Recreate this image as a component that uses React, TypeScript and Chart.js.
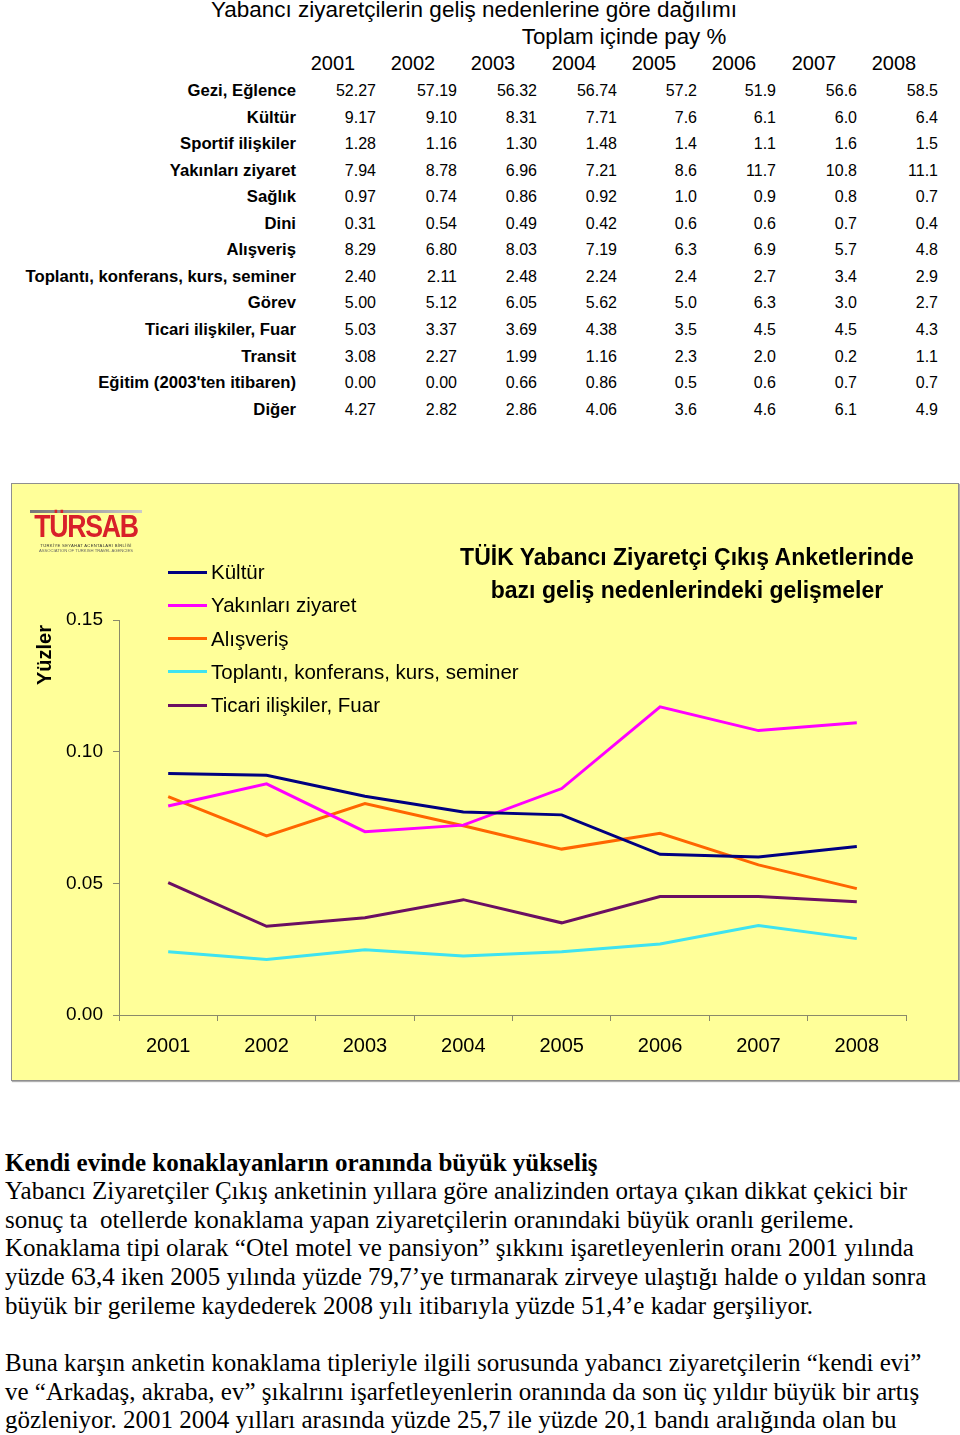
import React, { useEffect, useRef } from "react";
import { Chart, registerables } from "chart.js";
Chart.register(...registerables);

// ---------- DATA ----------
const years = ["2001", "2002", "2003", "2004", "2005", "2006", "2007", "2008"];
const reasons = [
  "Gezi, Eğlence",
  "Kültür",
  "Sportif ilişkiler",
  "Yakınları ziyaret",
  "Sağlık",
  "Dini",
  "Alışveriş",
  "Toplantı, konferans, kurs, seminer",
  "Görev",
  "Ticari ilişkiler, Fuar",
  "Transit",
  "Eğitim (2003'ten itibaren)",
  "Diğer",
];
const geziEglence = ["52.27", "57.19", "56.32", "56.74", "57.2", "51.9", "56.6", "58.5"];
const kultur = ["9.17", "9.10", "8.31", "7.71", "7.6", "6.1", "6.0", "6.4"];
const sportif = ["1.28", "1.16", "1.30", "1.48", "1.4", "1.1", "1.6", "1.5"];
const yakinlari = ["7.94", "8.78", "6.96", "7.21", "8.6", "11.7", "10.8", "11.1"];
const saglik = ["0.97", "0.74", "0.86", "0.92", "1.0", "0.9", "0.8", "0.7"];
const dini = ["0.31", "0.54", "0.49", "0.42", "0.6", "0.6", "0.7", "0.4"];
const alisveris = ["8.29", "6.80", "8.03", "7.19", "6.3", "6.9", "5.7", "4.8"];
const toplanti = ["2.40", "2.11", "2.48", "2.24", "2.4", "2.7", "3.4", "2.9"];
const gorev = ["5.00", "5.12", "6.05", "5.62", "5.0", "6.3", "3.0", "2.7"];
const ticari = ["5.03", "3.37", "3.69", "4.38", "3.5", "4.5", "4.5", "4.3"];
const transit = ["3.08", "2.27", "1.99", "1.16", "2.3", "2.0", "0.2", "1.1"];
const egitim = ["0.00", "0.00", "0.66", "0.86", "0.5", "0.6", "0.7", "0.7"];
const diger = ["4.27", "2.82", "2.86", "4.06", "3.6", "4.6", "6.1", "4.9"];
const tableRows = [geziEglence, kultur, sportif, yakinlari, saglik, dini, alisveris, toplanti, gorev, ticari, transit, egitim, diger];

const chartSeriesNames = ["Kültür", "Yakınları ziyaret", "Alışveriş", "Toplantı, konferans, kurs, seminer", "Ticari ilişkiler, Fuar"];
const chartSeriesValues = [kultur, yakinlari, alisveris, toplanti, ticari];
const chartSeriesColors = ["#000080", "#FF00FF", "#FF6600", "#3FE3F0", "#6B0F62"];
const yMin = 0;
const yMax = 0.15;
const yStep = 0.05;

const tableTitle = "Yabancı ziyaretçilerin geliş nedenlerine göre dağılımı";
const tableSubtitle = "Toplam içinde pay %";
const chartTitle1 = "TÜİK Yabancı Ziyaretçi Çıkış Anketlerinde";
const chartTitle2 = "bazı geliş nedenlerindeki gelişmeler";
const yAxisTitle = "Yüzler";

const heading = "Kendi evinde konaklayanların oranında büyük yükseliş";
const paragraph1 = [
  "Yabancı Ziyaretçiler Çıkış anketinin yıllara göre analizinden ortaya çıkan dikkat çekici bir",
  "sonuç ta  otellerde konaklama yapan ziyaretçilerin oranındaki büyük oranlı gerileme.",
  "Konaklama tipi olarak “Otel motel ve pansiyon” şıkkını işaretleyenlerin oranı 2001 yılında",
  "yüzde 63,4 iken 2005 yılında yüzde 79,7’ye tırmanarak zirveye ulaştığı halde o yıldan sonra",
  "büyük bir gerileme kaydederek 2008 yılı itibarıyla yüzde 51,4’e kadar gerşiliyor.",
];
const paragraph2 = [
  "Buna karşın anketin konaklama tipleriyle ilgili sorusunda yabancı ziyaretçilerin “kendi evi”",
  "ve “Arkadaş, akraba, ev” şıkalrını işarfetleyenlerin oranında da son üç yıldır büyük bir artış",
  "gözleniyor. 2001 2004 yılları arasında yüzde 25,7 ile yüzde 20,1 bandı aralığında olan bu",
];

// ---------- LAYOUT ----------
const SANS = "'Liberation Sans', Arial, Helvetica, sans-serif";
const SERIF = "'Liberation Serif', 'Times New Roman', serif";
const colRight = [376, 457, 537, 617, 697, 776, 857, 938];
const yearCenter = [333, 413, 493, 574, 654, 734, 814, 894];
const rowTop = 91;
const rowStep = 26.55;

const BOX = { left: 11, top: 483, width: 948, height: 598 };

function LineChart() {
  const ref = useRef<HTMLCanvasElement | null>(null);
  useEffect(() => {
    if (!ref.current) return;
    const chart = new Chart(ref.current, {
      type: "line",
      data: {
        labels: years,
        datasets: chartSeriesNames.map((name, i) => ({
          label: name,
          data: chartSeriesValues[i].map((v) => parseFloat(v) / 100),
          borderColor: chartSeriesColors[i],
          backgroundColor: chartSeriesColors[i],
          borderWidth: 3,
          pointRadius: 0,
          tension: 0,
          fill: false,
        })),
      },
      options: {
        animation: false,
        responsive: false,
        devicePixelRatio: 1,
        layout: { padding: { left: 0, right: 52, top: 136, bottom: 0 } },
        plugins: { legend: { display: false }, tooltip: { enabled: false }, title: { display: false } },
        scales: {
          x: {
            offset: true,
            grid: { offset: true, drawOnChartArea: false, drawTicks: true, tickLength: 6, color: "#8a8a6a" },
            border: { display: true, color: "#8a8a6a", width: 1 },
            ticks: { color: "#000", font: { family: SANS, size: 20 }, padding: 13, maxRotation: 0 },
            afterFit: (s: any) => {
              s.height = 65;
            },
          },
          y: {
            min: yMin,
            max: yMax,
            grid: { drawOnChartArea: false, drawTicks: true, tickLength: 6, color: "#8a8a6a" },
            border: { display: true, color: "#8a8a6a", width: 1 },
            ticks: {
              stepSize: yStep,
              color: "#000",
              font: { family: SANS, size: 19 },
              padding: 10,
              callback: (v: any) => Number(v).toFixed(2),
            },
            afterFit: (s: any) => {
              s.width = 107;
            },
          },
        },
      },
    });
    return () => chart.destroy();
  }, []);
  return (
    <canvas
      ref={ref}
      width={BOX.width - 2}
      height={BOX.height - 2}
      style={{ position: "absolute", left: 0, top: 0, width: BOX.width - 2, height: BOX.height - 2 }}
    />
  );
}

const abs = (extra: React.CSSProperties): React.CSSProperties => ({
  position: "absolute",
  whiteSpace: "pre",
  ...extra,
});

export default function App() {
  useEffect(() => {
    document.body.style.margin = "0";
  }, []);
  return (
    <div style={{ position: "absolute", left: 0, top: 0, width: 960, height: 1435, background: "#fff", overflow: "hidden", fontFamily: SANS, color: "#000" }}>
      {/* Table */}
      <div style={abs({ left: 474, top: -3, lineHeight: "26px", fontSize: 22.5, transform: "translateX(-50%)" })}>{tableTitle}</div>
      <div style={abs({ left: 624, top: 24, lineHeight: "26px", fontSize: 22.3, transform: "translateX(-50%)" })}>
        {tableSubtitle}
      </div>
      {years.map((y, i) => (
        <div key={y} style={abs({ left: yearCenter[i], top: 52, lineHeight: "22px", fontSize: 20, transform: "translateX(-50%)" })}>
          {y}
        </div>
      ))}
      {reasons.map((r, ri) => (
        <React.Fragment key={r}>
          <div style={abs({ right: 960 - 296, top: rowTop + ri * rowStep - 10, lineHeight: "20px", fontSize: 16.7, fontWeight: "bold" })}>{r}</div>
          {tableRows[ri].map((v, ci) => (
            <div key={ci} style={abs({ right: 960 - colRight[ci], top: rowTop + ri * rowStep - 10, lineHeight: "20px", fontSize: 16 })}>
              {v}
            </div>
          ))}
        </React.Fragment>
      ))}

      {/* Chart box */}
      <div
        style={{
          position: "absolute",
          left: BOX.left,
          top: BOX.top,
          width: BOX.width,
          height: BOX.height,
          boxSizing: "border-box",
          border: "1px solid #8f8f8f",
          background: "#FFFF99",
          boxShadow: "1px 1px 1px #b0b0b0",
        }}
      >
        <LineChart />
        {/* Logo */}
        <div style={abs({ left: 18, top: 24, width: 112, height: 42 })}>
          <div style={{ position: "absolute", left: 0, top: 2, width: 112, height: 3, background: "linear-gradient(90deg,#777,#ccc)" }} />
          <div style={{ position: "absolute", left: -10, top: 2, width: 132, textAlign: "center", color: "#d8202a", fontWeight: 900, fontSize: 31, lineHeight: "34px", letterSpacing: -1.5, fontFamily: SANS, transform: "scaleX(0.86)" }}>TÜRSAB</div>
          <div style={{ position: "absolute", left: 0, top: 35, width: 112, fontSize: 4.2, lineHeight: "5px", color: "#333", textAlign: "center", letterSpacing: 0.3 }}>TÜRKİYE SEYAHAT ACENTALARI BİRLİĞİ</div>
          <div style={{ position: "absolute", left: 0, top: 40, width: 112, fontSize: 4.2, lineHeight: "5px", color: "#666", textAlign: "center" }}>ASSOCIATION OF TURKISH TRAVEL AGENCIES</div>
        </div>
        {/* Legend */}
        {chartSeriesNames.map((n, i) => (
          <React.Fragment key={n}>
            <div style={{ position: "absolute", left: 156, top: 88 + i * 33.3 - 1.5, width: 39, height: 3, background: chartSeriesColors[i] }} />
            <div style={abs({ left: 199, top: 88 + i * 33.3 - 12, lineHeight: "24px", fontSize: 20.5 })}>{n}</div>
          </React.Fragment>
        ))}
        {/* Title */}
        <div style={abs({ left: 675, top: 73 - 14, lineHeight: "28px", fontSize: 23, fontWeight: "bold", transform: "translateX(-50%)" })}>{chartTitle1}</div>
        <div style={abs({ left: 675, top: 106 - 14, lineHeight: "28px", fontSize: 23, fontWeight: "bold", transform: "translateX(-50%)" })}>{chartTitle2}</div>
        {/* Y axis title */}
        <div style={abs({ left: 32, top: 171, lineHeight: "24px", fontSize: 20, fontWeight: "bold", transform: "translate(-50%,-50%) rotate(-90deg)" })}>{yAxisTitle}</div>
      </div>

      {/* Text */}
      <div style={abs({ left: 5, top: 1163 - 15, lineHeight: "30px", fontSize: 25, fontWeight: "bold", fontFamily: SERIF })}>{heading}</div>
      {paragraph1.map((l, i) => (
        <div key={i} style={abs({ left: 5, top: 1191 + i * 28.7 - 15, lineHeight: "30px", fontSize: 25, fontFamily: SERIF })}>{l}</div>
      ))}
      {paragraph2.map((l, i) => (
        <div key={i} style={abs({ left: 5, top: 1363 + i * 28.7 - 15, lineHeight: "30px", fontSize: 25, fontFamily: SERIF })}>{l}</div>
      ))}
    </div>
  );
}
